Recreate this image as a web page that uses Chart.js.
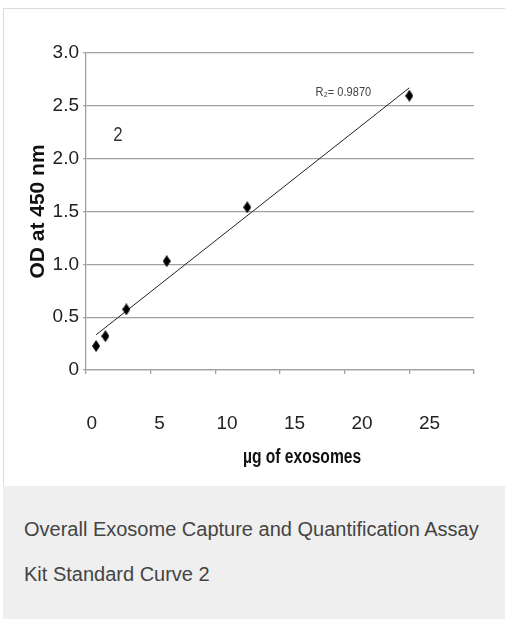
<!DOCTYPE html>
<html><head><meta charset="utf-8">
<script src="https://cdn.jsdelivr.net/npm/chart.js@4"></script>
<style>
html,body{margin:0;padding:0;background:#fff;width:505px;height:619px;overflow:hidden;}
#frame{position:absolute;left:3px;top:8px;width:520px;height:479px;border:1px solid #dcdcdc;box-sizing:border-box;}
#wrap{position:absolute;left:0;top:0;width:505px;height:486px;}
#cap{position:absolute;left:3px;top:486px;width:520px;height:133px;background:#eeefee;color:#444;font-family:'Liberation Sans',Arial,sans-serif;font-size:20px;line-height:45px;padding:21px 0 0 21px;box-sizing:border-box;}
</style></head><body>
<div id="frame"></div>
<div id="wrap"><canvas id="c" width="505" height="486"></canvas></div>
<div id="cap">Overall Exosome Capture and Quantification Assay<br>Kit Standard Curve 2</div>
<script>
// ---- data ----
const exosomeUg = [0.78, 1.5, 3.12, 6.24, 12.47, 25];
const odValues  = [0.227, 0.32, 0.574, 1.03, 1.54, 2.595];
const yTickLabels = ['0', '0.5', '1.0', '1.5', '2.0', '2.5', '3.0'];
const xTickLabels = ['0', '5', '10', '15', '20', '25'];
const yTitle = 'OD at 450 nm';
const xTitle = 'µg of exosomes';
const r2Text = 'R₂= 0.9870';
const panelText = '2';

// linear trendline (least squares) from the data
const n = exosomeUg.length;
const mx = exosomeUg.reduce((a,b)=>a+b,0)/n;
const my = odValues.reduce((a,b)=>a+b,0)/n;
let sxy=0, sxx=0;
for (let i=0;i<n;i++){ sxy+=(exosomeUg[i]-mx)*(odValues[i]-my); sxx+=(exosomeUg[i]-mx)**2; }
const slope = sxy/sxx, icpt = my - slope*mx;
const xMin = Math.min(...exosomeUg), xMax = Math.max(...exosomeUg);
const trend = [{x:xMin, y:icpt+slope*xMin}, {x:xMax, y:icpt+slope*xMax}];

const SANS = "'Liberation Sans',Arial,sans-serif";
const GRID = '#a0a0a0';

function diamond(w,h,color){
  const c=document.createElement('canvas'); c.width=w; c.height=h;
  const g=c.getContext('2d'); g.fillStyle=color; g.beginPath();
  g.moveTo(w/2,0); g.lineTo(w,h/2); g.lineTo(w/2,h); g.lineTo(0,h/2); g.closePath(); g.fill();
  return c;
}
const marker = diamond(8,12,'#000');

// narrow-looking text: draw with a horizontal squeeze
function narrowText(ctx, text, cx, cy, font, color, sx){
  ctx.save();
  ctx.translate(cx, cy);
  ctx.scale(sx, 1);
  ctx.font = font; ctx.fillStyle = color;
  ctx.textAlign = 'center'; ctx.textBaseline = 'middle';
  ctx.fillText(text, 0, 0);
  ctx.restore();
}

const annotations = {
  id:'annotations',
  afterDatasetsDraw(chart){
    const {ctx, chartArea, scales:{x,y}} = chart;
    narrowText(ctx, panelText, x.getPixelForValue(2.47), y.getPixelForValue(2.22), "21px " + SANS, '#333', 0.8);
    narrowText(ctx, r2Text, x.getPixelForValue(19.9), y.getPixelForValue(2.63), "13px " + SANS, '#444', 0.85);
    narrowText(ctx, xTitle, (chartArea.left+chartArea.right)/2 + 22, 457.5, "bold 20px " + SANS, '#111', 0.78);
  }
};

new Chart(document.getElementById('c'), {
  type:'scatter',
  data:{ datasets:[
    { label:'OD', data: exosomeUg.map((v,i)=>({x:v, y:odValues[i]})),
      pointStyle: marker, pointRadius:6, backgroundColor:'#000', borderColor:'#000', showLine:false },
    { label:'Trend', type:'line', data: trend, borderColor:'#222', borderWidth:1,
      pointRadius:0, fill:false, tension:0 }
  ]},
  options:{
    responsive:false, animation:false,
    layout:{ padding:{ left:25.8, right:31, top:53, bottom:0 } },
    plugins:{ legend:{display:false}, tooltip:{enabled:false} },
    scales:{
      x:{ type:'linear', position:'bottom', min:0, max:30,
          ticks:{ display:false, stepSize:5 },
          grid:{ drawOnChartArea:false, drawTicks:true, tickLength:4, color:GRID, lineWidth:1.3 },
          border:{ display:true, color:GRID, width:1.3 },
          afterFit(s){ s.height = 4; } },
      xl:{ type:'linear', position:'bottom', min:-0.437, max:28.29,
          grid:{ display:false }, border:{ display:false },
          ticks:{ stepSize:5, includeBounds:false, padding:30, color:'#222',
                  font:{ family:SANS, size:19 },
                  callback:(v)=>{ const i = Math.round(v/5); return (Math.abs(v-i*5)<1e-6 && xTickLabels[i]!==undefined) ? xTickLabels[i] : ''; } },
          afterFit(s){ s.height = 112; } },
      y:{ min:0, max:3,
          ticks:{ stepSize:0.5, padding:4, color:'#222', font:{ family:SANS, size:19 },
                  callback:(v)=> yTickLabels[Math.round(v/0.5)] },
          grid:{ color:GRID, lineWidth:1.3, tickLength:3 },
          border:{ display:true, color:GRID, width:1.3 },
          title:{ display:true, text:yTitle, color:'#111', padding:0,
                  font:{ family:SANS, weight:'bold', size:21 } },
          afterFit(s){ s.width = 60.2; } }
    }
  },
  plugins:[annotations]
});
</script>
</body></html>
